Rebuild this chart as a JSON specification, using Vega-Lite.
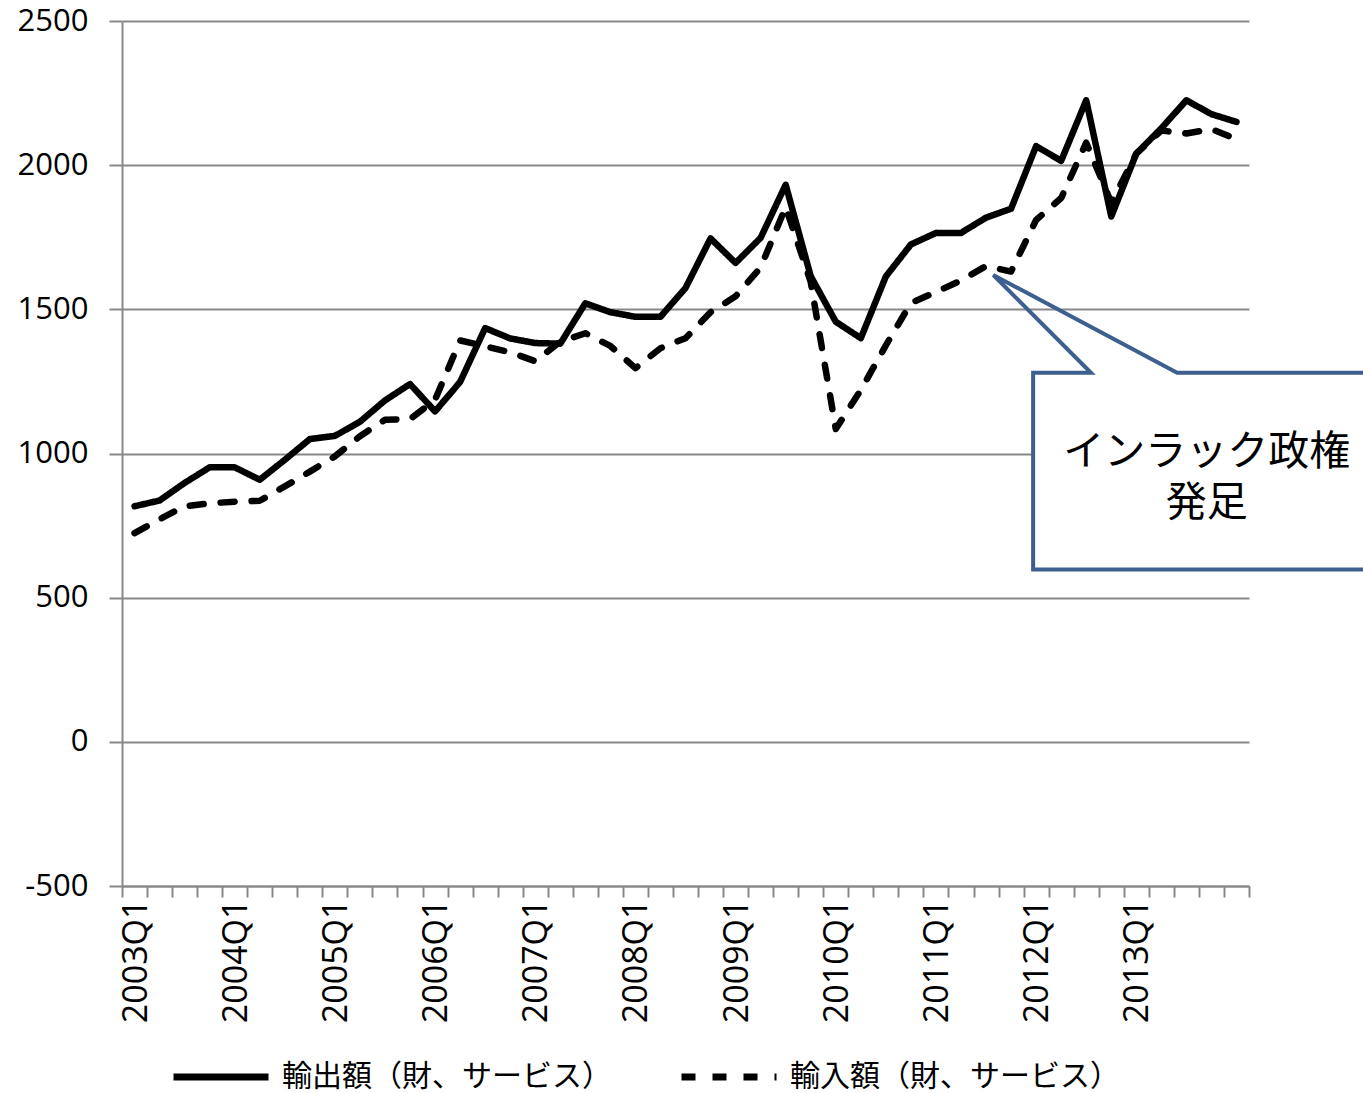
{
  "$schema": "https://vega.github.io/schema/vega-lite/v6.json",
  "width": 1127,
  "height": 865,
  "autosize": {"type": "none"},
  "padding": {"left": 122, "top": 21, "right": 114, "bottom": 207},
  "background": "white",
  "config": {"view": {"stroke": null}, "font": "Open Sans"},
  "datasets": {
    "trade": [
      {"n": 0, "q": "2003Q1", "series": "輸出額（財、サービス）", "v": 817},
      {"n": 1, "q": "2003Q2", "series": "輸出額（財、サービス）", "v": 837},
      {"n": 2, "q": "2003Q3", "series": "輸出額（財、サービス）", "v": 898},
      {"n": 3, "q": "2003Q4", "series": "輸出額（財、サービス）", "v": 952},
      {"n": 4, "q": "2004Q1", "series": "輸出額（財、サービス）", "v": 952},
      {"n": 5, "q": "2004Q2", "series": "輸出額（財、サービス）", "v": 909},
      {"n": 6, "q": "2004Q3", "series": "輸出額（財、サービス）", "v": 978},
      {"n": 7, "q": "2004Q4", "series": "輸出額（財、サービス）", "v": 1050},
      {"n": 8, "q": "2005Q1", "series": "輸出額（財、サービス）", "v": 1061},
      {"n": 9, "q": "2005Q2", "series": "輸出額（財、サービス）", "v": 1110},
      {"n": 10, "q": "2005Q3", "series": "輸出額（財、サービス）", "v": 1184},
      {"n": 11, "q": "2005Q4", "series": "輸出額（財、サービス）", "v": 1241},
      {"n": 12, "q": "2006Q1", "series": "輸出額（財、サービス）", "v": 1146},
      {"n": 13, "q": "2006Q2", "series": "輸出額（財、サービス）", "v": 1248},
      {"n": 14, "q": "2006Q3", "series": "輸出額（財、サービス）", "v": 1435},
      {"n": 15, "q": "2006Q4", "series": "輸出額（財、サービス）", "v": 1399},
      {"n": 16, "q": "2007Q1", "series": "輸出額（財、サービス）", "v": 1383},
      {"n": 17, "q": "2007Q2", "series": "輸出額（財、サービス）", "v": 1381},
      {"n": 18, "q": "2007Q3", "series": "輸出額（財、サービス）", "v": 1521},
      {"n": 19, "q": "2007Q4", "series": "輸出額（財、サービス）", "v": 1490},
      {"n": 20, "q": "2008Q1", "series": "輸出額（財、サービス）", "v": 1474},
      {"n": 21, "q": "2008Q2", "series": "輸出額（財、サービス）", "v": 1474},
      {"n": 22, "q": "2008Q3", "series": "輸出額（財、サービス）", "v": 1574},
      {"n": 23, "q": "2008Q4", "series": "輸出額（財、サービス）", "v": 1746},
      {"n": 24, "q": "2009Q1", "series": "輸出額（財、サービス）", "v": 1661},
      {"n": 25, "q": "2009Q2", "series": "輸出額（財、サービス）", "v": 1748},
      {"n": 26, "q": "2009Q3", "series": "輸出額（財、サービス）", "v": 1932},
      {"n": 27, "q": "2009Q4", "series": "輸出額（財、サービス）", "v": 1615},
      {"n": 28, "q": "2010Q1", "series": "輸出額（財、サービス）", "v": 1457},
      {"n": 29, "q": "2010Q2", "series": "輸出額（財、サービス）", "v": 1400},
      {"n": 30, "q": "2010Q3", "series": "輸出額（財、サービス）", "v": 1614},
      {"n": 31, "q": "2010Q4", "series": "輸出額（財、サービス）", "v": 1725},
      {"n": 32, "q": "2011Q1", "series": "輸出額（財、サービス）", "v": 1765},
      {"n": 33, "q": "2011Q2", "series": "輸出額（財、サービス）", "v": 1765},
      {"n": 34, "q": "2011Q3", "series": "輸出額（財、サービス）", "v": 1818},
      {"n": 35, "q": "2011Q4", "series": "輸出額（財、サービス）", "v": 1849},
      {"n": 36, "q": "2012Q1", "series": "輸出額（財、サービス）", "v": 2066},
      {"n": 37, "q": "2012Q2", "series": "輸出額（財、サービス）", "v": 2015},
      {"n": 38, "q": "2012Q3", "series": "輸出額（財、サービス）", "v": 2225},
      {"n": 39, "q": "2012Q4", "series": "輸出額（財、サービス）", "v": 1822},
      {"n": 40, "q": "2013Q1", "series": "輸出額（財、サービス）", "v": 2040},
      {"n": 41, "q": "2013Q2", "series": "輸出額（財、サービス）", "v": 2128},
      {"n": 42, "q": "2013Q3", "series": "輸出額（財、サービス）", "v": 2225},
      {"n": 43, "q": "2013Q4", "series": "輸出額（財、サービス）", "v": 2177},
      {"n": 44, "q": "2014Q1", "series": "輸出額（財、サービス）", "v": 2150},
      {"n": 0, "q": "2003Q1", "series": "輸入額（財、サービス）", "v": 724},
      {"n": 1, "q": "2003Q2", "series": "輸入額（財、サービス）", "v": 772},
      {"n": 2, "q": "2003Q3", "series": "輸入額（財、サービス）", "v": 817},
      {"n": 3, "q": "2003Q4", "series": "輸入額（財、サービス）", "v": 827},
      {"n": 4, "q": "2004Q1", "series": "輸入額（財、サービス）", "v": 833},
      {"n": 5, "q": "2004Q2", "series": "輸入額（財、サービス）", "v": 836},
      {"n": 6, "q": "2004Q3", "series": "輸入額（財、サービス）", "v": 886},
      {"n": 7, "q": "2004Q4", "series": "輸入額（財、サービス）", "v": 937},
      {"n": 8, "q": "2005Q1", "series": "輸入額（財、サービス）", "v": 990},
      {"n": 9, "q": "2005Q2", "series": "輸入額（財、サービス）", "v": 1060},
      {"n": 10, "q": "2005Q3", "series": "輸入額（財、サービス）", "v": 1117},
      {"n": 11, "q": "2005Q4", "series": "輸入額（財、サービス）", "v": 1119},
      {"n": 12, "q": "2006Q1", "series": "輸入額（財、サービス）", "v": 1186},
      {"n": 13, "q": "2006Q2", "series": "輸入額（財、サービス）", "v": 1392},
      {"n": 14, "q": "2006Q3", "series": "輸入額（財、サービス）", "v": 1372},
      {"n": 15, "q": "2006Q4", "series": "輸入額（財、サービス）", "v": 1351},
      {"n": 16, "q": "2007Q1", "series": "輸入額（財、サービス）", "v": 1320},
      {"n": 17, "q": "2007Q2", "series": "輸入額（財、サービス）", "v": 1388},
      {"n": 18, "q": "2007Q3", "series": "輸入額（財、サービス）", "v": 1417},
      {"n": 19, "q": "2007Q4", "series": "輸入額（財、サービス）", "v": 1373},
      {"n": 20, "q": "2008Q1", "series": "輸入額（財、サービス）", "v": 1296},
      {"n": 21, "q": "2008Q2", "series": "輸入額（財、サービス）", "v": 1365},
      {"n": 22, "q": "2008Q3", "series": "輸入額（財、サービス）", "v": 1400},
      {"n": 23, "q": "2008Q4", "series": "輸入額（財、サービス）", "v": 1490},
      {"n": 24, "q": "2009Q1", "series": "輸入額（財、サービス）", "v": 1545},
      {"n": 25, "q": "2009Q2", "series": "輸入額（財、サービス）", "v": 1645},
      {"n": 26, "q": "2009Q3", "series": "輸入額（財、サービス）", "v": 1855},
      {"n": 27, "q": "2009Q4", "series": "輸入額（財、サービス）", "v": 1595},
      {"n": 28, "q": "2010Q1", "series": "輸入額（財、サービス）", "v": 1085},
      {"n": 29, "q": "2010Q2", "series": "輸入額（財、サービス）", "v": 1220},
      {"n": 30, "q": "2010Q3", "series": "輸入額（財、サービス）", "v": 1375},
      {"n": 31, "q": "2010Q4", "series": "輸入額（財、サービス）", "v": 1522},
      {"n": 32, "q": "2011Q1", "series": "輸入額（財、サービス）", "v": 1560},
      {"n": 33, "q": "2011Q2", "series": "輸入額（財、サービス）", "v": 1600},
      {"n": 34, "q": "2011Q3", "series": "輸入額（財、サービス）", "v": 1650},
      {"n": 35, "q": "2011Q4", "series": "輸入額（財、サービス）", "v": 1631},
      {"n": 36, "q": "2012Q1", "series": "輸入額（財、サービス）", "v": 1810},
      {"n": 37, "q": "2012Q2", "series": "輸入額（財、サービス）", "v": 1886},
      {"n": 38, "q": "2012Q3", "series": "輸入額（財、サービス）", "v": 2078},
      {"n": 39, "q": "2012Q4", "series": "輸入額（財、サービス）", "v": 1870},
      {"n": 40, "q": "2013Q1", "series": "輸入額（財、サービス）", "v": 2040},
      {"n": 41, "q": "2013Q2", "series": "輸入額（財、サービス）", "v": 2120},
      {"n": 42, "q": "2013Q3", "series": "輸入額（財、サービス）", "v": 2110},
      {"n": 43, "q": "2013Q4", "series": "輸入額（財、サービス）", "v": 2125},
      {"n": 44, "q": "2014Q1", "series": "輸入額（財、サービス）", "v": 2090}
    ],
    "calloutBox": [{"n": 35.88, "n2": 51, "v": 598, "v2": 1280}],
    "calloutOutline": [
      {"k": 0, "n": 51, "v": 598},
      {"k": 1, "n": 35.88, "v": 598},
      {"k": 2, "n": 35.88, "v": 1280},
      {"k": 3, "n": 38.19, "v": 1280},
      {"k": 4, "n": 34.29, "v": 1619},
      {"k": 5, "n": 41.63, "v": 1280},
      {"k": 6, "n": 51, "v": 1280}
    ],
    "calloutText": [
      {"n": 42.81, "v": 1003, "t": "インラック政権"},
      {"n": 42.81, "v": 826, "t": "発足"}
    ]
  },
  "encoding": {
    "x": {
      "field": "n", "type": "quantitative", "title": null,
      "scale": {"domain": [-0.5, 44.5], "nice": false, "zero": false},
      "axis": {
        "orient": "bottom",
        "values": [-0.5, 0.5, 1.5, 2.5, 3.5, 4.5, 5.5, 6.5, 7.5, 8.5, 9.5, 10.5, 11.5, 12.5, 13.5, 14.5, 15.5, 16.5, 17.5, 18.5, 19.5, 20.5, 21.5, 22.5, 23.5, 24.5, 25.5, 26.5, 27.5, 28.5, 29.5, 30.5, 31.5, 32.5, 33.5, 34.5, 35.5, 36.5, 37.5, 38.5, 39.5, 40.5, 41.5, 42.5, 43.5, 44.5],
        "labelExpr": "(datum.value + 0.5) % 4 == 0 && datum.value < 43 ? (2003 + (datum.value + 0.5) / 4) + 'Q1' : ''",
        "labelOffset": 14,
        "labelAngle": 270, "labelAlign": "right", "labelBaseline": "middle",
        "labelFontSize": 34, "labelFont": "Open Sans", "labelColor": "black",
        "labelPadding": 2, "labelOverlap": false, "labelBound": false, "labelFlush": false,
        "tickSize": 11, "tickColor": "#898989", "tickWidth": 2,
        "domainColor": "#898989", "domainWidth": 2, "grid": false
      }
    },
    "y": {
      "field": "v", "type": "quantitative", "title": null,
      "scale": {"domain": [-500, 2500], "nice": false, "zero": false},
      "axis": {
        "values": [-500, 0, 500, 1000, 1500, 2000, 2500],
        "labelExpr": "'' + datum.value",
        "labelFontSize": 31, "labelFont": "Open Sans", "labelColor": "black",
        "labelPadding": 21, "tickSize": 13, "tickColor": "#898989", "tickWidth": 2,
        "domainColor": "#898989", "domainWidth": 2,
        "grid": true, "gridColor": "#898989", "gridWidth": 2
      }
    }
  },
  "layer": [
    {
      "data": {"name": "trade"},
      "mark": {"type": "line", "strokeWidth": 6.5, "strokeCap": "round", "strokeJoin": "round", "stroke": "black"},
      "encoding": {
        "strokeDash": {
          "field": "series", "type": "nominal",
          "scale": {"domain": ["輸出額（財、サービス）", "輸入額（財、サービス）"], "range": [[1, 0], [14, 17]]},
          "legend": {
            "title": null, "orient": "none", "legendX": 48, "legendY": 1005,
            "direction": "horizontal", "symbolType": "stroke", "symbolSize": 9025,
            "symbolStrokeWidth": 7, "symbolStrokeColor": "black",
            "labelFont": "Noto Sans CJK JP", "labelFontSize": 30, "labelColor": "black",
            "labelLimit": 0, "columnPadding": 55, "labelOffset": 10
          }
        }
      }
    },
    {
      "data": {"name": "calloutBox"},
      "mark": {"type": "rect", "fill": "white", "strokeWidth": 0},
      "encoding": {
        "x2": {"field": "n2"},
        "y2": {"field": "v2"}
      }
    },
    {
      "data": {"name": "calloutOutline"},
      "mark": {"type": "line", "stroke": "#3D5F8F", "strokeWidth": 4, "strokeJoin": "miter"},
      "encoding": {
        "order": {"field": "k", "type": "quantitative"}
      }
    },
    {
      "data": {"name": "calloutText"},
      "mark": {"type": "text", "font": "Noto Sans CJK JP", "fontSize": 41, "align": "center", "baseline": "middle", "fill": "black"},
      "encoding": {
        "text": {"field": "t"}
      }
    }
  ]
}
